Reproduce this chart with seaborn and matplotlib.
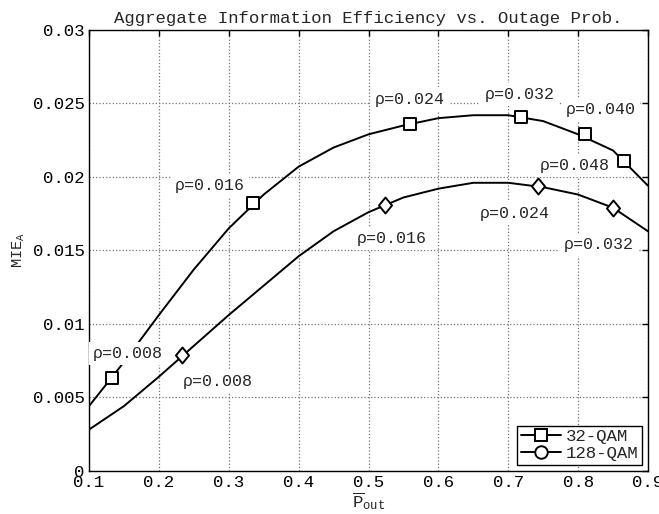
import matplotlib
matplotlib.use('Agg')
import matplotlib.pyplot as plt
import seaborn as sns
import pandas as pd
from matplotlib.lines import Line2D
from matplotlib.path import Path

# Curvas MIE_A x probabilidade de outage
p_out = [0.10, 0.15, 0.20, 0.25, 0.30, 0.35, 0.40, 0.45, 0.50,
         0.55, 0.60, 0.65, 0.70, 0.75, 0.80, 0.85, 0.90]
mie_32qam = [0.0044, 0.0074, 0.0106, 0.0137, 0.0165, 0.0188, 0.0207, 0.0220, 0.0229,
             0.0235, 0.0240, 0.0242, 0.0242, 0.0238, 0.0229, 0.0218, 0.0194]
mie_128qam = [0.0028, 0.0044, 0.0064, 0.0085, 0.0106, 0.0126, 0.0146, 0.0163, 0.0176,
              0.0186, 0.0192, 0.0196, 0.0196, 0.0193, 0.0188, 0.0179, 0.0163]

# Pontos marcados (valores de rho)
rho_32qam = ['0.008', '0.016', '0.024', '0.032', '0.040', '0.048']
p_32qam_pts = [0.133, 0.334, 0.559, 0.718, 0.810, 0.866]
mie_32qam_pts = [0.0063, 0.0182, 0.0236, 0.0241, 0.0229, 0.0211]

rho_128qam = ['0.008', '0.016', '0.024', '0.032']
p_128qam_pts = [0.233, 0.524, 0.742, 0.850]
mie_128qam_pts = [0.0079, 0.0181, 0.0194, 0.0179]

# posicao dos textos (canto esquerdo, centro vertical)
label_pos_32 = [(0.106, 0.0080), (0.223, 0.0194), (0.509, 0.0253),
                (0.666, 0.0256), (0.783, 0.0246), (0.745, 0.0208)]
label_pos_128 = [(0.234, 0.0061), (0.483, 0.0158), (0.659, 0.0175), (0.779, 0.0154)]

sns.set_style('white')
plt.rcParams['font.family'] = ['Liberation Mono', 'DejaVu Sans']
plt.rcParams['mathtext.fontset'] = 'custom'
plt.rcParams['mathtext.rm'] = 'Liberation Mono'
plt.rcParams['mathtext.it'] = 'Liberation Mono'

fig = plt.figure(figsize=(6.59, 5.14), dpi=100)
ax = fig.add_axes([0.1351, 0.0842, 0.8482, 0.8574])

df = pd.DataFrame({'p': p_out, 'a': mie_32qam, 'b': mie_128qam})
sns.lineplot(data=df, x='p', y='a', sort=False, estimator=None, color='k', lw=1.4, ax=ax, zorder=2)
sns.lineplot(data=df, x='p', y='b', sort=False, estimator=None, color='k', lw=1.4, ax=ax, zorder=2)

diamond = Path([(0, 1), (0.82, 0), (0, -1), (-0.82, 0), (0, 1)], closed=True)
sns.scatterplot(x=p_32qam_pts, y=mie_32qam_pts, marker='s', s=8**2, facecolor='white',
                edgecolor='k', linewidth=1.4, ax=ax, zorder=5)
sns.scatterplot(x=p_128qam_pts, y=mie_128qam_pts, marker=diamond, s=11.5**2, facecolor='white',
                edgecolor='k', linewidth=1.4, ax=ax, zorder=5)

for r, (tx, ty) in zip(rho_32qam, label_pos_32):
    ax.text(tx, ty, 'ρ=' + r, ha='left', va='center', fontsize=12, zorder=4,
            bbox=dict(facecolor='white', edgecolor='none', pad=3))
for r, (tx, ty) in zip(rho_128qam, label_pos_128):
    ax.text(tx, ty, 'ρ=' + r, ha='left', va='center', fontsize=12, zorder=4,
            bbox=dict(facecolor='white', edgecolor='none', pad=3))

ax.set_xlim(0.1, 0.9)
ax.set_ylim(0, 0.03)
ax.set_xticks([0.1, 0.2, 0.3, 0.4, 0.5, 0.6, 0.7, 0.8, 0.9])
ax.set_xticklabels(['0.1', '0.2', '0.3', '0.4', '0.5', '0.6', '0.7', '0.8', '0.9'])
ax.set_yticks([0, 0.005, 0.01, 0.015, 0.02, 0.025, 0.03])
ax.set_yticklabels(['0', '0.005', '0.01', '0.015', '0.02', '0.025', '0.03'])
ax.tick_params(direction='in', length=4, width=1, top=True, right=True,
               labelsize=12.5, colors='k', pad=3)
ax.grid(True, linestyle=':', color='0.45', linewidth=0.9)
for s in ax.spines.values():
    s.set_color('k')
    s.set_linewidth(1.0)

ax.set_title('Aggregate Information Efficiency vs. Outage Prob.', fontsize=12.5, pad=5)
ax.set_xlabel(r'$\overline{\mathrm{P}}_{\mathrm{out}}$', fontsize=12.5, labelpad=0)
ax.set_ylabel(r'MIE$_{\mathrm{A}}$', fontsize=11, labelpad=4)

handles = [Line2D([], [], color='k', lw=1.4, marker='s', ms=8, mfc='white', mec='k', mew=1.4),
           Line2D([], [], color='k', lw=1.4, marker='o', ms=9, mfc='white', mec='k', mew=1.4)]
leg = ax.legend(handles, ['32-QAM', '128-QAM'], loc='lower right', fontsize=12.5,
                frameon=True, fancybox=False, framealpha=1, edgecolor='k',
                borderaxespad=0.35, handlelength=2.3, handletextpad=0.3,
                labelspacing=0.1, borderpad=0.2)
leg.get_frame().set_linewidth(1.0)

fig.savefig('out.png', dpi=100)
